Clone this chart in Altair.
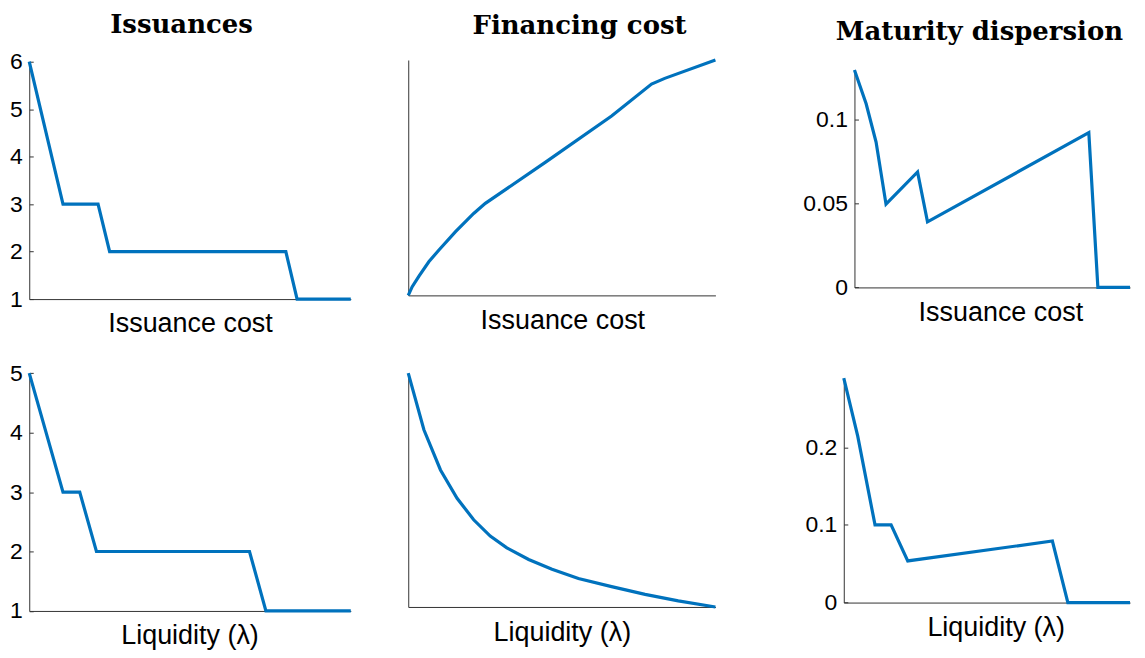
import altair as alt
import pandas as pd

# ---- data (x normalised 0..1 along each panel) ----
# Top-left: Issuances vs issuance cost
iss_cost_x = [0.0, 0.105, 0.214, 0.250, 0.798, 0.833, 1.0]
iss_cost_y = [6, 3, 3, 2, 2, 1, 1]

# Top-middle: Financing cost vs issuance cost
fin_cost_x = [0.0, 0.013, 0.035, 0.067, 0.100, 0.154, 0.213, 0.251, 0.446, 0.662, 0.792, 0.835, 1.0]
fin_cost_y = [0.0, 0.037, 0.082, 0.143, 0.193, 0.271, 0.348, 0.391, 0.565, 0.762, 0.898, 0.922, 1.0]

# Top-right: Maturity dispersion vs issuance cost (right end cut by the page edge)
mat_cost_x = [0.0, 0.040, 0.074, 0.108, 0.216, 0.250, 0.802, 0.833, 0.943]
mat_cost_y = [0.1294, 0.1093, 0.0865, 0.0495, 0.0687, 0.0390, 0.0921, 0.0, 0.0]

# Bottom-left: Issuances vs liquidity
iss_liq_x = [0.0, 0.105, 0.157, 0.209, 0.685, 0.736, 1.0]
iss_liq_y = [5, 3, 3, 2, 2, 1, 1]

# Bottom-middle: Financing cost vs liquidity
fin_liq_x = [0.0, 0.051, 0.105, 0.159, 0.213, 0.267, 0.321, 0.392, 0.468, 0.554, 0.662, 0.771, 0.879, 1.0]
fin_liq_y = [1.0, 0.758, 0.586, 0.465, 0.373, 0.303, 0.253, 0.203, 0.161, 0.122, 0.087, 0.054, 0.026, 0.0]

# Bottom-right: Maturity dispersion vs liquidity (right end cut by the page edge)
mat_liq_x = [0.0, 0.046, 0.103, 0.156, 0.211, 0.688, 0.739, 0.944]
mat_liq_y = [0.289, 0.2143, 0.1, 0.1, 0.0536, 0.0793, 0.0, 0.0]

ticks_iss_cost = [1, 2, 3, 4, 5, 6]
ticks_iss_liq = [1, 2, 3, 4, 5]
ticks_mat_cost = [0, 0.05, 0.1]
ticks_mat_liq = [0, 0.1, 0.2]

titles = ["Issuances", "Financing cost", "Maturity dispersion"]
xtitle_cost = "Issuance cost"
xtitle_liq = "Liquidity (λ)"

BLUE = "#0072BD"
AX = "#333333"
SANS = "Liberation Sans"
W, H = 1125, 640


def panel(xs, ys, xdom, xrng, ydom, yrng, yticks, xtitle, xtitle_x, tpad,
          ptitle=None, ptx=0, pty=0):
    df = pd.DataFrame({"x": xs, "y": ys})
    ykw = dict(orient="right", offset=xrng[0] - W, grid=False,
               domainColor=AX, domainWidth=1)
    if yticks is None:
        ykw.update(labels=False, ticks=False)
    else:
        ykw.update(values=yticks, format="~g", ticks=True, tickSize=4,
                   tickColor=AX, tickWidth=1, labelAlign="right",
                   labelBaseline="middle", labelPadding=-11, labelFont=SANS,
                   labelFontSize=23, labelColor="black")
    if ptitle is None:
        ykw["title"] = None
    else:
        ykw.update(title=ptitle, titleAngle=0, titleX=ptx, titleY=pty,
                   titleAlign="center", titleBaseline="alphabetic",
                   titleFont="DejaVu Serif", titleFontWeight="bold",
                   titleFontSize=26, titleColor="black")
    xaxis = alt.Axis(orient="bottom", offset=yrng[0] - H, labels=False, ticks=False,
                     grid=False, title=xtitle, titleX=xtitle_x, titleFont=SANS,
                     titleFontSize=27, titleFontWeight="normal", titleColor="black",
                     titlePadding=tpad, titleAlign="center",
                     domainColor=AX, domainWidth=1)
    return alt.Chart(df).mark_line(color=BLUE, strokeWidth=3.2).encode(
        x=alt.X("x:Q", scale=alt.Scale(domain=xdom, range=xrng, nice=False, zero=False),
                axis=xaxis),
        y=alt.Y("y:Q", scale=alt.Scale(domain=ydom, range=yrng, nice=False, zero=False),
                axis=alt.Axis(**ykw)),
        order="x:Q",
    )


tl = panel(iss_cost_x, iss_cost_y, [0, 1], [21.3, 343.7], [1, 6], [291, 53],
           ticks_iss_cost, xtitle_cost, 182.5, 12, titles[0], 152.2, 23.5)
tm = panel(fin_cost_x, fin_cost_y, [0, 1], [401.3, 709.3], [0, 1], [287.3, 51.3],
           None, xtitle_cost, 555.8, 12, titles[1], 171.2, 24.5)
tr = panel(mat_cost_x, mat_cost_y, [0, 0.943], [848.7, 1125], [0, 0.1294], [279.3, 61.3],
           ticks_mat_cost, xtitle_cost, 995, 12, titles[2], 124.8, 30.3)
bl = panel(iss_liq_x, iss_liq_y, [0, 1], [21.3, 343.7], [1, 5], [603.7, 365.3],
           ticks_iss_liq, xtitle_liq, 182, 12)
bm = panel(fin_liq_x, fin_liq_y, [0, 1], [401.3, 709.3], [0, 1], [599.7, 365.3],
           None, xtitle_liq, 555.3, 13)
br = panel(mat_liq_x, mat_liq_y, [0, 0.944], [838, 1125], [0, 0.289], [595.3, 370.3],
           ticks_mat_liq, xtitle_liq, 990.3, 12)

chart = alt.layer(tl, tm, tr, bl, bm, br).resolve_scale(
    x="independent", y="independent"
).properties(width=W, height=H, padding=0).configure_view(strokeWidth=0)

chart.save("out.html", embed_options={"renderer": "svg", "actions": False})
